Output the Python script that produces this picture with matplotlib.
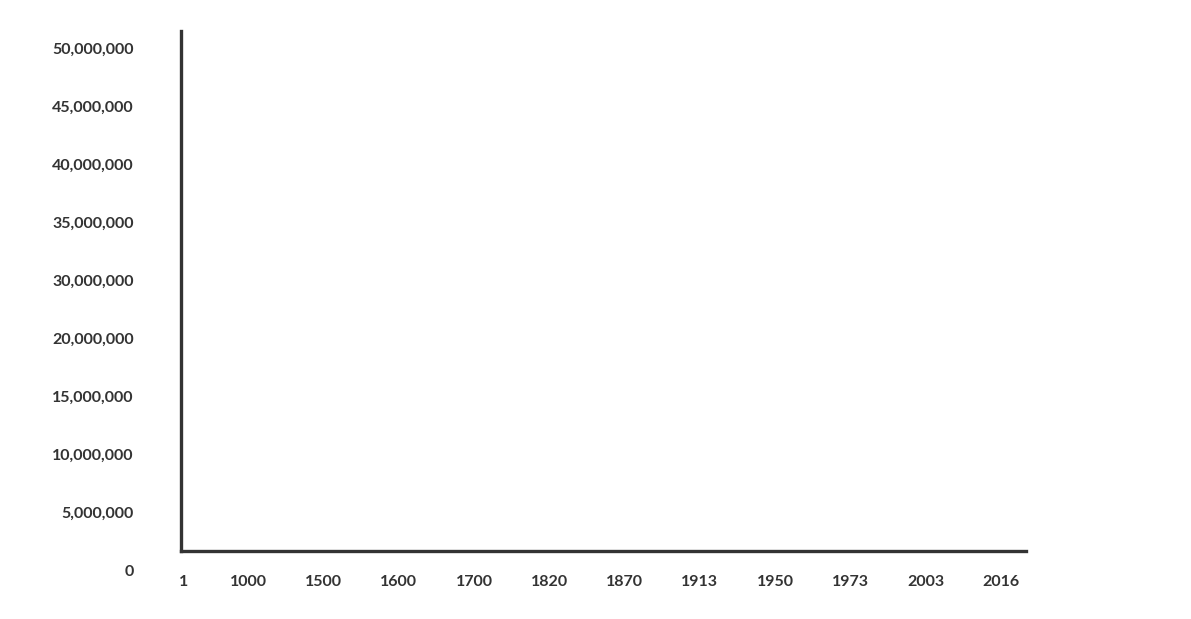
import numpy as np
import matplotlib.pyplot as plt
import matplotlib.transforms as mtransforms

# Chart has no series drawn, only the axis frame and its labels
years = ['1', '1000', '1500', '1600', '1700', '1820', '1870', '1913', '1950', '1973', '2003', '2016']
y_labels = ['0', '5,000,000', '10,000,000', '15,000,000', '20,000,000',
            '30,000,000', '35,000,000', '40,000,000', '45,000,000', '50,000,000']

dark = '#333333'
plt.rcParams['font.family'] = ['Lato', 'DejaVu Sans']

fig = plt.figure(figsize=(11.91, 6.19), dpi=100)
ax = fig.add_axes([172.7 / 1191, 49 / 619, (1026 - 172.7) / 1191, (588 - 49) / 619])

x = np.arange(len(years))
y = np.arange(len(y_labels))

ax.set_xlim(0, 11.33)
ax.set_ylim(0, 9.29)

ax.set_xticks(x)
ax.set_xticklabels(years)
ax.set_yticks(y)
ax.set_yticklabels(y_labels)

for s in ['top', 'right']:
    ax.spines[s].set_visible(False)
ax.spines['left'].set_position(('data', 0.11))
ax.spines['left'].set_bounds(0.328, 9.29)
ax.spines['bottom'].set_position(('data', 0.328))
ax.spines['bottom'].set_bounds(0.11, 11.33)
for s in ['left', 'bottom']:
    ax.spines[s].set_color(dark)
    ax.spines[s].set_linewidth(2.4)

ax.tick_params(axis='both', length=0, labelsize=11.5, labelcolor=dark)
ax.tick_params(axis='y', pad=34)
ax.tick_params(axis='x', pad=17.5)
for lbl in ax.get_xticklabels() + ax.get_yticklabels():
    lbl.set_fontweight('bold')

# first year label sits a little right of its slot
first = ax.get_xticklabels()[0]
first.set_transform(first.get_transform() + mtransforms.ScaledTranslation(11 / 100, 0, fig.dpi_scale_trans))

fig.savefig('out.png', dpi=100, facecolor='white')
